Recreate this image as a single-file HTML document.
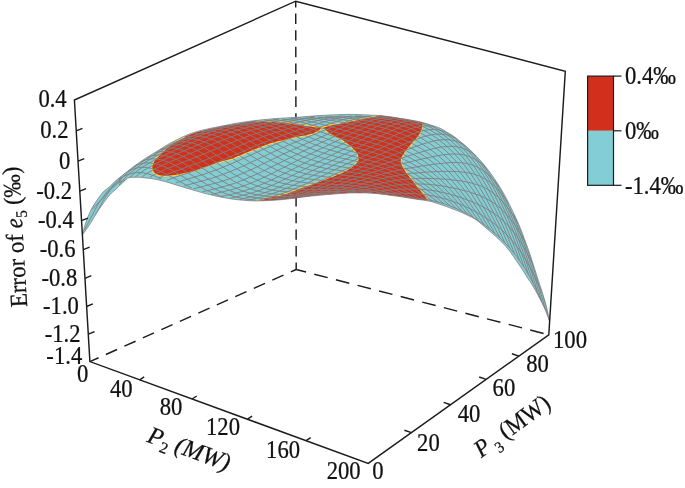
<!DOCTYPE html>
<html><head><meta charset="utf-8"><title>Error of e5</title>
<style>html,body{margin:0;padding:0;background:#fff}svg{display:block}</style></head>
<body>
<svg width="685" height="488" viewBox="0 0 685 488">
<rect width="685" height="488" fill="#fff"/>
<line x1="295.7" y1="1.2" x2="296.2" y2="269.5" stroke="#1c1c1c" stroke-width="1.45" stroke-dasharray="10.4 6.2" stroke-dashoffset="4.2"/>
<line x1="89.9" y1="361.6" x2="296.2" y2="269.5" stroke="#1c1c1c" stroke-width="1.45" stroke-dasharray="12.25 8" stroke-dashoffset="2.75"/>
<line x1="296.2" y1="269.5" x2="548.8" y2="334.8" stroke="#1c1c1c" stroke-width="1.45" stroke-dasharray="13.8 8.5" stroke-dashoffset="3.6"/>
<g id="surf">
<path d="M82.4 235 C83 232.8 84.4 226.5 86 222 C87.6 217.5 89.7 212.3 92 208 C94.3 203.7 98 198.8 100 196 C102 193.2 102.3 192.8 104 191.2 C105.7 189.6 108.2 188.2 110 186.5 C111.8 184.8 113.2 183 115 181.3 C116.8 179.6 119 178 121.1 176.4 C123.1 174.8 125.2 173.1 127.3 171.5 C129.3 169.9 131.3 168.2 133.4 166.7 C135.5 165.2 137.6 163.8 139.6 162.4 C141.6 161 143.6 159.5 145.7 158.2 C147.8 156.9 149.8 155.7 151.9 154.4 C154 153.2 155.9 152 158 150.7 C160.1 149.4 162.6 147.7 164.6 146.5 C166.6 145.3 167.9 144.5 170 143.4 C172.1 142.3 174.7 140.8 176.9 139.7 C179.1 138.6 181 137.7 183 136.8 C185 135.9 187.1 135 189.1 134.2 C191.1 133.4 192.9 132.8 195 132.2 C197.1 131.6 198.9 131 201.4 130.4 C203.9 129.8 206.9 129.1 210 128.4 C213.1 127.7 216.7 127.1 220 126.4 C223.3 125.7 226.7 125 230 124.4 C233.3 123.8 236.7 123.2 240 122.7 C243.3 122.2 246.7 121.7 250 121.2 C253.3 120.8 256.7 120.4 260 120 C263.3 119.6 266.7 119.3 270 119 C273.3 118.7 276.7 118.5 280 118.3 C283.3 118.1 286.7 117.9 290 117.7 C293.3 117.5 296.3 117.4 300 117.1 C303.7 116.8 308.2 116.4 312.3 116.1 C316.4 115.8 320.5 115.5 324.6 115.3 C328.7 115.1 332.8 114.8 336.9 114.7 C341 114.6 345 114.4 349.1 114.4 C353.2 114.4 357.3 114.6 361.4 114.7 C365.5 114.8 370.6 115.2 373.7 115.3 C376.8 115.4 376.9 115.3 380 115.6 C383.1 115.9 388.2 116.5 392.3 117.1 C396.4 117.7 400.5 118.3 404.6 119 C408.7 119.7 413.9 120.6 416.9 121.2 C419.9 121.8 420.8 122 422.8 122.6 C424.8 123.1 427.1 123.9 429.1 124.5 C431.1 125.1 432.9 125.7 435 126.4 C437.1 127.1 439.5 127.9 441.4 128.8 C443.2 129.7 444.3 130.7 446.1 131.8 C447.9 132.9 450.2 134 452.3 135.3 C454.4 136.7 456.3 138.3 458.4 139.9 C460.4 141.5 462.6 143.2 464.6 145 C466.7 146.8 468.6 148.6 470.7 150.5 C472.8 152.4 474.8 154.5 476.9 156.7 C478.9 158.9 481.1 161.3 483 163.6 C484.9 165.9 486.7 168.1 488.6 170.6 C490.5 173.1 492.4 175.8 494.4 178.8 C496.4 181.8 498.6 185 500.7 188.4 C502.8 191.8 504.8 195.6 506.9 199.5 C508.9 203.4 511.3 208.3 513 211.8 C514.7 215.3 515.8 217.5 517 220.3 C518.2 223.1 519.3 225.6 520.5 228.6 C521.7 231.6 523 235.1 524.2 238.4 C525.4 241.7 526.7 244.8 527.9 248.3 C529.1 251.8 530.4 255.7 531.6 259.3 C532.8 262.9 533.9 266.6 535 270 C536.1 273.4 537 276.3 538.1 279.8 C539.2 283.3 540.6 287 541.8 290.9 C543 294.8 544.5 299.5 545.5 303.2 C546.5 306.9 547.3 310.1 547.9 313 C548.5 315.9 549 319.2 549.2 320.5 L549.2 320.5 C548.8 319.4 547.7 316.2 546.7 313.6 C545.7 311 544.6 308.4 543 305 C541.4 301.6 538.9 296.8 536.9 293 C534.9 289.2 532.1 284.8 530.7 282.5 C529.3 280.2 529.8 281.5 528.5 279.5 C527.2 277.5 524.9 273.5 523 270.5 C521.1 267.5 518.9 264.5 516.9 261.5 C514.9 258.5 512.7 255.2 510.7 252.5 C508.7 249.8 507 247.8 505 245.5 C503 243.2 500.7 241 498.5 238.9 C496.3 236.8 494.1 234.8 492 233 C489.9 231.2 488 229.7 486 228 C484 226.3 482 224.4 480 222.8 C478 221.2 477.1 220.3 474.1 218.6 C471.1 216.9 466 214.4 461.9 212.6 C457.8 210.8 453.7 209.2 449.6 207.7 C445.5 206.2 440.8 204.5 437.3 203.4 C433.8 202.3 432.2 201.7 428.7 201 C425.2 200.3 420.5 199.8 416.4 199.2 C412.3 198.6 408.2 197.8 404.1 197.2 C400 196.6 396 196.1 391.9 195.5 C387.8 194.9 383.7 194.3 379.6 193.9 C375.5 193.5 370.6 193.2 367.3 193 C364 192.8 363.1 192.9 360 192.9 C356.9 192.9 352.6 192.8 348.7 193 C344.8 193.2 340.5 193.5 336.4 193.8 C332.3 194.1 328.2 194.4 324.1 194.8 C320 195.2 315.9 195.6 311.9 196 C307.9 196.4 303.6 197 300 197.4 C296.4 197.8 293.3 198.3 290 198.7 C286.7 199.1 283.6 199.5 280 199.8 C276.4 200.1 272.6 200.3 268.7 200.5 C264.8 200.7 260.5 200.9 256.4 200.9 C252.3 200.9 248.2 200.6 244.1 200.3 C240 200 236 199.6 231.9 199 C227.8 198.4 223.7 197.6 219.6 196.8 C215.5 196 211.4 195 207.3 194 C203.2 193 198.1 191.5 195 190.6 C191.9 189.7 190.8 189.3 188.7 188.7 C186.6 188.1 184.6 187.5 182.5 186.9 C180.4 186.3 178.5 185.7 176.4 185 C174.3 184.3 172.1 183.6 170 183 C167.9 182.4 166.1 181.8 164.1 181.3 C162.1 180.8 160 180.2 158 179.8 C156 179.4 153.9 178.9 151.9 178.6 C149.9 178.3 148.1 178.2 146 178 C143.9 177.8 141.8 177.4 139.6 177.3 C137.4 177.2 134.9 177.2 133 177.3 C131.1 177.4 129.2 177.5 127.9 178 C126.6 178.5 126.1 179.5 125 180.5 C123.9 181.5 122.8 182.6 121.1 184.2 C119.4 185.8 116.8 188.3 115 190 C113.2 191.7 112.2 192.1 110 194.6 C107.8 197.1 104.3 201.8 102 205 C99.7 208.2 98 210.8 96 214 C94 217.2 92.3 220.5 90 224 C87.7 227.5 83.7 233.2 82.4 235Z" fill="#83cdd4"/>
<path d="M322.5 127.4 C321.8 127.3 319.3 127 318 126.9 C316.7 126.8 316.5 126.8 314.7 126.6 C312.9 126.4 309.8 126 307.4 125.6 C304.9 125.2 302.3 124.7 300 124.4 C297.7 124.1 295.9 123.9 293.7 123.6 C291.5 123.3 289.1 123 287 122.7 C284.9 122.5 283.4 122.3 281.4 122.1 C279.4 121.9 277.1 121.8 275 121.6 C272.9 121.4 271.1 121.2 269.1 121.2 C267.1 121.2 265 121.2 263 121.3 C261 121.4 259.1 121.5 256.9 121.6 C254.7 121.7 252.8 121.6 250 121.9 C247.2 122.2 243.3 122.9 240 123.4 C236.7 123.9 233.3 124.5 230 125.1 C226.7 125.7 223.3 126.4 220 127.1 C216.7 127.8 213.1 128.4 210 129.1 C206.9 129.8 203.9 130.5 201.4 131.1 C198.9 131.7 197.1 132.3 195 132.9 C192.9 133.5 190.8 134.3 189.1 134.9 C187.4 135.5 186.4 135.9 185 136.6 C183.6 137.4 182 138.5 180.5 139.3 C179 140.1 177.4 140.7 176 141.4 C174.6 142.2 173.3 143 172 143.8 C170.7 144.6 169.6 145.3 168.3 146.4 C167 147.5 165.3 149.2 164.1 150.3 C162.9 151.4 162.2 152 161.1 153.1 C160 154.2 158.5 155.6 157.4 156.8 C156.3 158 155.1 159.2 154.3 160.4 C153.5 161.6 152.9 162.9 152.5 164.1 C152.1 165.3 151.8 166.4 151.8 167.5 C151.8 168.6 152.1 169.6 152.4 170.5 C152.7 171.4 153.2 172.1 153.7 172.7 C154.2 173.3 154.8 173.8 155.5 174.2 C156.2 174.6 157.1 174.9 158 175.2 C158.9 175.5 160 175.8 161 176 C162 176.2 162.5 176.4 164.1 176.4 C165.7 176.4 168.2 176.2 170.3 176 C172.4 175.8 174.4 175.5 176.4 175.2 C178.4 174.9 180.6 174.4 182.6 174 C184.6 173.6 186.6 173.2 188.7 172.7 C190.8 172.2 193.1 171.5 195 170.9 C196.9 170.3 197.5 170 200 169.2 C202.5 168.3 206.7 166.9 210 165.8 C213.3 164.7 216.5 163.4 220 162.4 C223.5 161.4 228.1 160.5 231 159.6 C233.9 158.7 235.2 157.7 237.5 156.8 C239.8 155.9 242.4 154.9 244.6 154 C246.8 153.1 248.6 152.4 250.7 151.6 C252.8 150.8 254.8 149.9 256.9 149.1 C258.9 148.3 261 147.4 263 146.6 C265 145.8 267.1 144.9 269.1 144.2 C271.1 143.5 272.9 143.1 275 142.6 C277.1 142.1 279.3 141.6 281.4 141.1 C283.5 140.6 285.4 140.1 287.5 139.6 C289.6 139.1 291.6 138.6 293.7 138.1 C295.8 137.6 297.7 137.1 300 136.7 C302.3 136.2 305.4 135.8 307.4 135.4 C309.4 135 310.6 134.7 312 134.2 C313.4 133.7 314.8 133.2 316 132.6 C317.2 132 318.4 131.5 319.5 130.6 C320.6 129.7 322 127.9 322.5 127.4Z" fill="#d2301c"/>
<path d="M322.5 127.4 C323.2 127.2 325.1 126.5 326.5 126.1 C327.9 125.7 329.2 125.2 330.7 124.9 C332.2 124.6 334 124.4 335.6 124.1 C337.2 123.8 339 123.6 340.5 123.3 C342 123 343.4 122.7 344.8 122.4 C346.2 122.1 347.7 121.7 349.1 121.4 C350.5 121.1 352 120.8 353.4 120.5 C354.8 120.2 355.8 120 357.7 119.6 C359.6 119.2 362.6 118.7 365 118.2 C367.4 117.7 369.7 117.2 372 116.8 C374.3 116.4 377.8 115.8 379 115.6 L380 115.6 C382.1 115.8 388.2 116.5 392.3 117.1 C396.4 117.7 400.5 118.3 404.6 119 C408.7 119.7 414.8 120.8 416.9 121.2 L422.8 122.6 C422.8 123.1 423.1 124.6 423 125.5 C422.9 126.4 422.7 127.2 422.4 128.2 C422.1 129.1 421.7 130.2 421.3 131.2 C420.9 132.2 420.5 133.3 419.9 134.3 C419.3 135.3 418.6 136.5 417.8 137.4 C417 138.3 416.4 138.8 415.3 140 C414.2 141.2 412.3 143.6 411.2 144.9 C410.1 146.2 409.4 147 408.6 148 C407.8 149 407 149.9 406.3 150.9 C405.6 151.9 404.9 152.9 404.3 153.8 C403.7 154.8 403.1 155.7 402.6 156.6 C402.1 157.5 401.7 158.3 401.5 159 C401.3 159.7 401.3 160.3 401.3 161 C401.3 161.7 401.4 162.6 401.6 163.4 C401.8 164.2 402.2 164.9 402.7 165.8 C403.2 166.7 403.9 167.9 404.5 168.9 C405.1 169.9 405.7 170.9 406.4 171.9 C407.1 172.9 408 174.1 408.8 175.2 C409.6 176.3 410.3 177.4 411.2 178.5 C412.1 179.6 412.9 180.7 414 182 C415.1 183.3 416.4 184.9 417.6 186.4 C418.8 187.9 420.1 189.3 421.3 190.8 C422.5 192.3 423.8 194 425 195.6 C426.2 197.2 428.1 199.8 428.7 200.6 L416.4 199.2 C414.3 198.9 408.2 197.8 404.1 197.2 C400 196.6 396 196.1 391.9 195.5 C387.8 194.9 383.7 194.3 379.6 193.9 C375.5 193.5 370.6 193.2 367.3 193 C364 192.8 363.1 192.9 360 192.9 C356.9 192.9 352.6 192.8 348.7 193 C344.8 193.2 340.5 193.5 336.4 193.8 C332.3 194.1 328.2 194.4 324.1 194.8 C320 195.2 315.9 195.6 311.9 196 C307.9 196.4 303.6 197 300 197.4 C296.4 197.8 293.3 198.3 290 198.7 C286.7 199.1 283.6 199.5 280 199.8 C276.4 200.1 270.6 200.4 268.7 200.5 L256.6 200.8 C257.5 200.6 260 200.1 262 199.5 C264 198.9 266.5 198.1 268.7 197.5 C270.9 196.9 273.1 196.5 275 196.1 C276.9 195.7 277.9 195.6 280 195.1 C282.1 194.6 285.1 193.6 287.3 192.9 C289.6 192.2 291.4 191.5 293.5 190.7 C295.6 189.9 297.6 189.1 299.6 188.3 C301.6 187.6 303.6 186.9 305.7 186.2 C307.8 185.5 309.8 184.7 311.9 184 C313.9 183.3 316 182.6 318 181.9 C320 181.2 322.1 180.5 324.1 179.7 C326.1 178.9 328.1 178.1 330.2 177.3 C332.2 176.5 334.4 175.5 336.4 174.7 C338.4 173.8 340.8 172.9 342.4 172.2 C344 171.5 345 171 346.2 170.3 C347.4 169.6 348.5 168.9 349.7 168.1 C350.9 167.3 352.2 166.5 353.2 165.7 C354.2 164.9 355.2 164 355.9 163.2 C356.6 162.4 357.1 161.7 357.5 161 C357.9 160.3 358 159.6 358.1 158.9 C358.2 158.2 358.1 157.3 357.9 156.6 C357.7 155.9 357.5 155.4 357.1 154.6 C356.7 153.8 356.1 152.8 355.5 152 C354.9 151.2 354.2 150.6 353.4 149.7 C352.6 148.8 351.5 147.7 350.5 146.8 C349.5 145.9 348.4 144.9 347.3 144.1 C346.2 143.3 345.2 142.6 344.2 141.9 C343.2 141.2 342.1 140.4 341.1 139.8 C340.1 139.2 339 138.7 338 138.2 C337 137.7 336.1 137.3 335 136.8 C333.9 136.3 332.6 135.7 331.5 135 C330.4 134.3 329.4 133.7 328.3 132.9 C327.2 132.1 326.2 131.2 325.2 130.3 C324.2 129.4 322.9 127.9 322.5 127.4Z" fill="#d2301c"/>
<path d="M322.5 127.4 C321.8 127.3 319.3 127 318 126.9 C316.7 126.8 316.5 126.8 314.7 126.6 C312.9 126.4 309.8 126 307.4 125.6 C304.9 125.2 302.3 124.7 300 124.4 C297.7 124.1 295.9 123.9 293.7 123.6 C291.5 123.3 289.1 123 287 122.7 C284.9 122.5 283.4 122.3 281.4 122.1 C279.4 121.9 277.1 121.8 275 121.6 C272.9 121.4 271.1 121.2 269.1 121.2 C267.1 121.2 265 121.2 263 121.3 C261 121.4 257.9 121.5 256.9 121.6" fill="none" stroke="#f0dc46" stroke-width="1.1"/>
<path d="M185 136.6 C184.2 137.1 182 138.5 180.5 139.3 C179 140.1 177.4 140.7 176 141.4 C174.6 142.2 173.3 143 172 143.8 C170.7 144.6 169.6 145.3 168.3 146.4 C167 147.5 165.3 149.2 164.1 150.3 C162.9 151.4 162.2 152 161.1 153.1 C160 154.2 158.5 155.6 157.4 156.8 C156.3 158 155.1 159.2 154.3 160.4 C153.5 161.6 152.9 162.9 152.5 164.1 C152.1 165.3 151.8 166.4 151.8 167.5 C151.8 168.6 152.1 169.6 152.4 170.5 C152.7 171.4 153.2 172.1 153.7 172.7 C154.2 173.3 154.8 173.8 155.5 174.2 C156.2 174.6 157.1 174.9 158 175.2 C158.9 175.5 160 175.8 161 176 C162 176.2 162.5 176.4 164.1 176.4 C165.7 176.4 168.2 176.2 170.3 176 C172.4 175.8 174.4 175.5 176.4 175.2 C178.4 174.9 180.6 174.4 182.6 174 C184.6 173.6 186.6 173.2 188.7 172.7 C190.8 172.2 193.1 171.5 195 170.9 C196.9 170.3 197.5 170 200 169.2 C202.5 168.3 206.7 166.9 210 165.8 C213.3 164.7 216.5 163.4 220 162.4 C223.5 161.4 228.1 160.5 231 159.6 C233.9 158.7 235.2 157.7 237.5 156.8 C239.8 155.9 242.4 154.9 244.6 154 C246.8 153.1 248.6 152.4 250.7 151.6 C252.8 150.8 254.8 149.9 256.9 149.1 C258.9 148.3 261 147.4 263 146.6 C265 145.8 267.1 144.9 269.1 144.2 C271.1 143.5 272.9 143.1 275 142.6 C277.1 142.1 279.3 141.6 281.4 141.1 C283.5 140.6 285.4 140.1 287.5 139.6 C289.6 139.1 291.6 138.6 293.7 138.1 C295.8 137.6 297.7 137.1 300 136.7 C302.3 136.2 305.4 135.8 307.4 135.4 C309.4 135 310.6 134.7 312 134.2 C313.4 133.7 314.8 133.2 316 132.6 C317.2 132 318.4 131.5 319.5 130.6 C320.6 129.7 322 127.9 322.5 127.4" fill="none" stroke="#f0dc46" stroke-width="1.1"/>
<path d="M322.5 127.4 C323.2 127.2 325.1 126.5 326.5 126.1 C327.9 125.7 329.2 125.2 330.7 124.9 C332.2 124.6 334 124.4 335.6 124.1 C337.2 123.8 339 123.6 340.5 123.3 C342 123 343.4 122.7 344.8 122.4 C346.2 122.1 347.7 121.7 349.1 121.4 C350.5 121.1 352 120.8 353.4 120.5 C354.8 120.2 355.8 120 357.7 119.6 C359.6 119.2 362.6 118.7 365 118.2 C367.4 117.7 369.7 117.2 372 116.8 C374.3 116.4 377.8 115.8 379 115.6" fill="none" stroke="#f0dc46" stroke-width="1.1"/>
<path d="M422.8 122.6 C422.8 123.1 423.1 124.6 423 125.5 C422.9 126.4 422.7 127.2 422.4 128.2 C422.1 129.1 421.7 130.2 421.3 131.2 C420.9 132.2 420.5 133.3 419.9 134.3 C419.3 135.3 418.6 136.5 417.8 137.4 C417 138.3 416.4 138.8 415.3 140 C414.2 141.2 412.3 143.6 411.2 144.9 C410.1 146.2 409.4 147 408.6 148 C407.8 149 407 149.9 406.3 150.9 C405.6 151.9 404.9 152.9 404.3 153.8 C403.7 154.8 403.1 155.7 402.6 156.6 C402.1 157.5 401.7 158.3 401.5 159 C401.3 159.7 401.3 160.3 401.3 161 C401.3 161.7 401.4 162.6 401.6 163.4 C401.8 164.2 402.2 164.9 402.7 165.8 C403.2 166.7 403.9 167.9 404.5 168.9 C405.1 169.9 405.7 170.9 406.4 171.9 C407.1 172.9 408 174.1 408.8 175.2 C409.6 176.3 410.3 177.4 411.2 178.5 C412.1 179.6 412.9 180.7 414 182 C415.1 183.3 416.4 184.9 417.6 186.4 C418.8 187.9 420.1 189.3 421.3 190.8 C422.5 192.3 423.8 194 425 195.6 C426.2 197.2 428.1 199.8 428.7 200.6" fill="none" stroke="#f0dc46" stroke-width="1.1"/>
<path d="M256.6 200.8 C257.5 200.6 260 200.1 262 199.5 C264 198.9 266.5 198.1 268.7 197.5 C270.9 196.9 273.1 196.5 275 196.1 C276.9 195.7 277.9 195.6 280 195.1 C282.1 194.6 285.1 193.6 287.3 192.9 C289.6 192.2 291.4 191.5 293.5 190.7 C295.6 189.9 297.6 189.1 299.6 188.3 C301.6 187.6 303.6 186.9 305.7 186.2 C307.8 185.5 309.8 184.7 311.9 184 C313.9 183.3 316 182.6 318 181.9 C320 181.2 322.1 180.5 324.1 179.7 C326.1 178.9 328.1 178.1 330.2 177.3 C332.2 176.5 334.4 175.5 336.4 174.7 C338.4 173.8 340.8 172.9 342.4 172.2 C344 171.5 345 171 346.2 170.3 C347.4 169.6 348.5 168.9 349.7 168.1 C350.9 167.3 352.2 166.5 353.2 165.7 C354.2 164.9 355.2 164 355.9 163.2 C356.6 162.4 357.1 161.7 357.5 161 C357.9 160.3 358 159.6 358.1 158.9 C358.2 158.2 358.1 157.3 357.9 156.6 C357.7 155.9 357.5 155.4 357.1 154.6 C356.7 153.8 356.1 152.8 355.5 152 C354.9 151.2 354.2 150.6 353.4 149.7 C352.6 148.8 351.5 147.7 350.5 146.8 C349.5 145.9 348.4 144.9 347.3 144.1 C346.2 143.3 345.2 142.6 344.2 141.9 C343.2 141.2 342.1 140.4 341.1 139.8 C340.1 139.2 339 138.7 338 138.2 C337 137.7 336.1 137.3 335 136.8 C333.9 136.3 332.6 135.7 331.5 135 C330.4 134.3 329.4 133.7 328.3 132.9 C327.2 132.1 326.2 131.2 325.2 130.3 C324.2 129.4 322.9 127.9 322.5 127.4" fill="none" stroke="#f0dc46" stroke-width="1.1"/>
<clipPath id="oc"><path d="M82.4 235 C83 232.8 84.4 226.5 86 222 C87.6 217.5 89.7 212.3 92 208 C94.3 203.7 98 198.8 100 196 C102 193.2 102.3 192.8 104 191.2 C105.7 189.6 108.2 188.2 110 186.5 C111.8 184.8 113.2 183 115 181.3 C116.8 179.6 119 178 121.1 176.4 C123.1 174.8 125.2 173.1 127.3 171.5 C129.3 169.9 131.3 168.2 133.4 166.7 C135.5 165.2 137.6 163.8 139.6 162.4 C141.6 161 143.6 159.5 145.7 158.2 C147.8 156.9 149.8 155.7 151.9 154.4 C154 153.2 155.9 152 158 150.7 C160.1 149.4 162.6 147.7 164.6 146.5 C166.6 145.3 167.9 144.5 170 143.4 C172.1 142.3 174.7 140.8 176.9 139.7 C179.1 138.6 181 137.7 183 136.8 C185 135.9 187.1 135 189.1 134.2 C191.1 133.4 192.9 132.8 195 132.2 C197.1 131.6 198.9 131 201.4 130.4 C203.9 129.8 206.9 129.1 210 128.4 C213.1 127.7 216.7 127.1 220 126.4 C223.3 125.7 226.7 125 230 124.4 C233.3 123.8 236.7 123.2 240 122.7 C243.3 122.2 246.7 121.7 250 121.2 C253.3 120.8 256.7 120.4 260 120 C263.3 119.6 266.7 119.3 270 119 C273.3 118.7 276.7 118.5 280 118.3 C283.3 118.1 286.7 117.9 290 117.7 C293.3 117.5 296.3 117.4 300 117.1 C303.7 116.8 308.2 116.4 312.3 116.1 C316.4 115.8 320.5 115.5 324.6 115.3 C328.7 115.1 332.8 114.8 336.9 114.7 C341 114.6 345 114.4 349.1 114.4 C353.2 114.4 357.3 114.6 361.4 114.7 C365.5 114.8 370.6 115.2 373.7 115.3 C376.8 115.4 376.9 115.3 380 115.6 C383.1 115.9 388.2 116.5 392.3 117.1 C396.4 117.7 400.5 118.3 404.6 119 C408.7 119.7 413.9 120.6 416.9 121.2 C419.9 121.8 420.8 122 422.8 122.6 C424.8 123.1 427.1 123.9 429.1 124.5 C431.1 125.1 432.9 125.7 435 126.4 C437.1 127.1 439.5 127.9 441.4 128.8 C443.2 129.7 444.3 130.7 446.1 131.8 C447.9 132.9 450.2 134 452.3 135.3 C454.4 136.7 456.3 138.3 458.4 139.9 C460.4 141.5 462.6 143.2 464.6 145 C466.7 146.8 468.6 148.6 470.7 150.5 C472.8 152.4 474.8 154.5 476.9 156.7 C478.9 158.9 481.1 161.3 483 163.6 C484.9 165.9 486.7 168.1 488.6 170.6 C490.5 173.1 492.4 175.8 494.4 178.8 C496.4 181.8 498.6 185 500.7 188.4 C502.8 191.8 504.8 195.6 506.9 199.5 C508.9 203.4 511.3 208.3 513 211.8 C514.7 215.3 515.8 217.5 517 220.3 C518.2 223.1 519.3 225.6 520.5 228.6 C521.7 231.6 523 235.1 524.2 238.4 C525.4 241.7 526.7 244.8 527.9 248.3 C529.1 251.8 530.4 255.7 531.6 259.3 C532.8 262.9 533.9 266.6 535 270 C536.1 273.4 537 276.3 538.1 279.8 C539.2 283.3 540.6 287 541.8 290.9 C543 294.8 544.5 299.5 545.5 303.2 C546.5 306.9 547.3 310.1 547.9 313 C548.5 315.9 549 319.2 549.2 320.5 L549.2 320.5 C548.8 319.4 547.7 316.2 546.7 313.6 C545.7 311 544.6 308.4 543 305 C541.4 301.6 538.9 296.8 536.9 293 C534.9 289.2 532.1 284.8 530.7 282.5 C529.3 280.2 529.8 281.5 528.5 279.5 C527.2 277.5 524.9 273.5 523 270.5 C521.1 267.5 518.9 264.5 516.9 261.5 C514.9 258.5 512.7 255.2 510.7 252.5 C508.7 249.8 507 247.8 505 245.5 C503 243.2 500.7 241 498.5 238.9 C496.3 236.8 494.1 234.8 492 233 C489.9 231.2 488 229.7 486 228 C484 226.3 482 224.4 480 222.8 C478 221.2 477.1 220.3 474.1 218.6 C471.1 216.9 466 214.4 461.9 212.6 C457.8 210.8 453.7 209.2 449.6 207.7 C445.5 206.2 440.8 204.5 437.3 203.4 C433.8 202.3 432.2 201.7 428.7 201 C425.2 200.3 420.5 199.8 416.4 199.2 C412.3 198.6 408.2 197.8 404.1 197.2 C400 196.6 396 196.1 391.9 195.5 C387.8 194.9 383.7 194.3 379.6 193.9 C375.5 193.5 370.6 193.2 367.3 193 C364 192.8 363.1 192.9 360 192.9 C356.9 192.9 352.6 192.8 348.7 193 C344.8 193.2 340.5 193.5 336.4 193.8 C332.3 194.1 328.2 194.4 324.1 194.8 C320 195.2 315.9 195.6 311.9 196 C307.9 196.4 303.6 197 300 197.4 C296.4 197.8 293.3 198.3 290 198.7 C286.7 199.1 283.6 199.5 280 199.8 C276.4 200.1 272.6 200.3 268.7 200.5 C264.8 200.7 260.5 200.9 256.4 200.9 C252.3 200.9 248.2 200.6 244.1 200.3 C240 200 236 199.6 231.9 199 C227.8 198.4 223.7 197.6 219.6 196.8 C215.5 196 211.4 195 207.3 194 C203.2 193 198.1 191.5 195 190.6 C191.9 189.7 190.8 189.3 188.7 188.7 C186.6 188.1 184.6 187.5 182.5 186.9 C180.4 186.3 178.5 185.7 176.4 185 C174.3 184.3 172.1 183.6 170 183 C167.9 182.4 166.1 181.8 164.1 181.3 C162.1 180.8 160 180.2 158 179.8 C156 179.4 153.9 178.9 151.9 178.6 C149.9 178.3 148.1 178.2 146 178 C143.9 177.8 141.8 177.4 139.6 177.3 C137.4 177.2 134.9 177.2 133 177.3 C131.1 177.4 129.2 177.5 127.9 178 C126.6 178.5 126.1 179.5 125 180.5 C123.9 181.5 122.8 182.6 121.1 184.2 C119.4 185.8 116.8 188.3 115 190 C113.2 191.7 112.2 192.1 110 194.6 C107.8 197.1 104.3 201.8 102 205 C99.7 208.2 98 210.8 96 214 C94 217.2 92.3 220.5 90 224 C87.7 227.5 83.7 233.2 82.4 235Z"/></clipPath>
<clipPath id="rc"><rect x="119" y="100" width="440" height="230"/></clipPath>
<g clip-path="url(#oc)"><path clip-path="url(#rc)" d="M96 210.9 L101.9 199.8 L104.9 195 L108.7 189.7 M297.7 118.1 L299.5 117.6 M103.2 201 L107.6 193.5 L112.9 186.1 L119 179.1 L125.1 173.2 M156 152.1 L173.5 143 L190 135.7 M305.2 117.4 L307 117 M110.5 192.7 L114.3 187.2 L118.1 182.4 L122.7 177.3 L127.3 173 L132.7 168.5 L138 164.5 L144.1 160.5 L151.7 156 L161.4 150.7 L171.8 145.5 L182.7 140.4 L192.8 136.1 L202 132.6 L211 129.5 L220 126.9 L229.5 124.7 M314 116.4 L314.6 116.3 M118 186.2 L122.6 180.6 L127.3 175.8 L132.7 171 L138.9 166.3 L145.8 161.8 L154.2 157 L164.1 151.9 L175.2 146.4 L186.2 141.4 L197.1 136.8 L207 133 L216.8 129.7 L226.5 126.9 L236 124.6 L246.1 122.7 L256.6 121 M125.8 181.5 L131.2 176 L136.7 171.3 L142.9 166.9 L149.9 162.7 L159.2 157.7 L171.3 151.9 L187.7 144.5 L201.5 138.6 L211.5 134.7 L220.6 131.5 L229.6 128.7 L238.5 126.3 L248 124.2 L257.3 122.4 L267.7 120.7 L278.6 119.3 M133.7 178.5 L138.4 174.4 L143.9 170.4 L150.2 166.6 L158 162.5 L170.3 156.7 L193.6 146.6 L208.2 140.4 L220.3 135.7 L237.7 129.9 L255.4 125.3 L275.7 121.3 L297.9 118.2 M141.8 177.1 L146.6 173.7 L151.3 170.8 L156.9 167.9 L163.9 164.5 L215.7 142.8 L236.2 135 L253.4 129.6 L272.1 124.8 L294.7 120.3 L314.5 117.2 M150.1 177.1 L157.3 173 L166.8 168.7 L196.8 156.9 L233.3 141.8 L252.1 134.8 L270.4 129.2 L291.3 123.7 L312.2 119.2 L328.6 116.5 M158.6 178.3 L163.4 175.9 L169 173.5 L201.5 161.7 L245.9 143.1 L257 138.8 L268 134.9 L288.6 128.4 L311.7 122 L327.7 118.2 L341 116.1 M167.1 180.3 L176 176.9 L197.9 169.7 L210.8 165 L223.5 159.8 L260 144 L273 138.9 L286.4 134 L309.2 126.4 L327.4 120.9 L340.2 117.8 L351.5 115.9 M175.8 182.9 L183.1 180.5 L205 173.9 L218.7 169 L232.1 163.5 L261.5 150.2 L276.8 143.7 L295.6 136.2 L318.9 127.5 L333.3 122.5 L343.7 119.4 L353.3 117.1 L361.6 115.9 M184.6 185.8 L211.5 178.3 L219.9 175.5 L228.2 172.4 L242.3 166.4 L273 152.1 L289.4 144.7 L316.5 133.4 L339.3 124.3 L348.5 121.1 L356.4 118.7 L363.5 117.1 L370.6 116.1 M193.5 188.8 L217.3 182.7 L225.7 180.1 L234.1 177 L251.1 169.7 L283.1 154.2 L299.5 146.6 L345.4 126.3 L355.8 122.2 L364.9 119.2 L372.6 117.4 L379.6 116.5 M202.5 191.7 L216.9 188.4 L225.5 186.1 L233.9 183.5 L243 180.1 L258.5 173.3 L304.9 150.4 L342.8 132.4 L356.5 126.2 L366.3 122.2 L374.1 119.6 L381.2 117.9 L388.2 117.1 M211.6 194.4 L225.1 191.3 L233.7 189.1 L242.9 186.1 L252 182.7 L260.2 179.1 L268.9 175 L313 152.6 L354.7 132.1 L367.1 126.3 L376.2 122.5 L384 120 L391 118.5 L397.4 117.9 M220.8 196.6 L233.5 193.8 L242.1 191.5 L251.3 188.5 L260.3 185 L268.5 181.4 L278 176.8 L320 155.2 L364.2 132.9 L376.5 126.9 L385.6 123.2 L393.3 120.8 L400.3 119.4 L406.7 119.1 M230.1 198.3 L243.5 195.2 L253.6 192.4 L263.5 188.9 L274 184.5 L289.3 177 L321.6 160.3 L373.7 133.7 L389 126.5 L396.8 123.6 L403.9 121.7 L410.3 120.8 L416 120.9 M239.4 199.5 L252.1 196.5 L261.4 193.8 L271.3 190.4 L281.8 186 L296.4 178.9 L328.7 162.3 L381.5 135.6 L390.1 131.4 L397.4 128.2 L405.8 125.2 L412.8 123.6 L419.2 123 L425.4 123.4 M248.9 200.1 L260.7 197.2 L270 194.5 L279.9 191 L289.7 187 L302.9 180.7 L337.3 163.3 L388.2 138.4 L398 133.8 L405.3 130.7 L414.2 127.6 L421.8 126.1 L425.3 125.9 L428.7 125.9 L432.1 126.3 L435.4 127 M258.5 200.2 L269.5 197.4 L278.8 194.7 L287.9 191.5 L296.9 187.8 L309.4 182.1 L338.5 167.9 L354.8 160.1 L399.2 139.5 L413.2 133.7 L422.7 130.8 L426.8 130 L430.9 129.5 L434.9 129.5 L438.3 129.8 L442.2 130.7 L445.5 131.8 M268.2 199.9 L278.4 197.2 L286.9 194.7 L294.6 192.1 L302.8 188.9 L315.4 183.5 L344.6 169.8 L360.9 162.5 L406.1 143.2 L420.7 137.6 L426 136 L431.3 134.8 L436 134.2 L440 134 L444 134.3 L447.9 135 L451.7 136.3 L455.6 138 M278 199.2 L294.4 194.7 L308.1 190 L320 185.2 L350.7 171.6 L368.5 164.3 L411.8 147.9 L421 144.6 L428.2 142.4 L434.1 140.9 L439.4 140 L444.6 139.6 L449.1 139.8 L453.6 140.5 L457.5 141.7 L461.9 143.7 L465.6 145.9 M288 198.2 L303.6 193.9 L317.2 189.4 L329.1 184.9 L359.8 172.4 L380.3 165 L417.6 153 L427.4 150.2 L435.2 148.2 L442.3 146.9 L448.1 146.3 L453.3 146.3 L458.3 147 L463.3 148.4 L467.7 150.3 L472 152.9 L476.2 156.2 M298.1 197.2 L312.9 193.2 L324.3 189.7 L335.4 185.8 L364.9 174.9 L384 168.7 L398.6 164.7 L417.2 160.1 L432 156.8 L442.3 154.9 L449.9 154.1 L456.3 154 L461.9 154.5 L467.5 155.9 L473 158.1 L477.8 161 L482.5 164.8 L487.2 169.4 M308.3 196 L330.7 190.2 L370.7 177.3 L381.1 174.3 L390.6 171.9 L404.6 168.9 L420.6 166.2 L438 163.7 L450 162.6 L458.2 162.5 L465 163.2 L471.2 164.5 L477.3 166.9 L482.6 170 L487.9 174.1 L493 179.2 L498.5 185.9 M318.7 195 L341.7 189.6 L379.5 179.2 L388.5 177.1 L397.3 175.4 L411.3 173.4 L426.1 172.1 L443.4 171.3 L456.6 171.5 L465.3 172.3 L472.7 173.7 L479.4 176 L485.9 179.4 L491.7 183.6 L497.4 189 L502.9 195.6 L508.8 204 M333.1 193.4 L350.7 190 L384.9 182.4 L395.3 180.5 L405.5 179.3 L418.7 178.4 L432.8 178.5 L448.3 179.4 L462.1 181.1 L471.9 183.1 L479.8 185.6 L487 188.9 L493.4 193.1 L499.7 198.5 L505.3 204.6 L511.2 212.6 L517.4 222.5 M347.6 192.5 L393.2 185.4 L404.3 184.3 L414.4 183.9 L426.9 184.2 L440.4 185.6 L454.5 188.2 L467.6 191.4 L478 194.8 L486.4 198.6 L494.1 203.2 L500.9 208.6 L507.6 215.4 L513.6 223.1 L519.4 232 L525.9 243.5 M362.2 192.4 L392.4 189.7 L402.3 189.1 L414 188.9 L424.8 189.5 L436.5 191.1 L449.2 193.9 L462 197.9 L474.5 202.7 L484.7 207.7 L493.6 213.1 L501.1 218.9 L508.5 225.9 L515 233.8 L521.4 243.1 L527.5 253.8 L534.3 267.2 M378.4 193.3 L402.5 193.3 L413.7 193.6 L425.3 194.6 L435.9 196.4 L447.5 199.5 L458.7 203.6 L470.8 209.1 L482.5 215.6 L492.1 222 L500.8 229 L508.8 236.7 L515.9 245.1 L522.9 254.9 L529.1 265.5 L535 277.2 L542.6 293.8 M395.3 195.8 L414.7 197.8 L426.4 199.4 L437.9 201.9 L448.3 205.2 L459.1 209.7 L470.1 215.5 L480.8 222.4 L491.7 230.6 L501.1 238.9 L509.1 247.2 L516.9 256.7 L523.9 266.7 L530.1 277.3 L536.6 290.1 L542.9 304.2 L550.6 323.2 M96.9 207.6 L101.9 201.7 L106.4 197.1 M103.8 195.8 L107.8 191.6 L111.5 188.2 L115 185.4 L118.4 183.1 L122 181.3 L125.5 180 L129.2 179.1 L132.9 178.7 M115.9 181.8 L121 178 L126.2 175.1 L131.3 173.4 L136.6 172.6 L142.1 172.7 L148 173.8 L154.3 175.8 L161.5 178.9 M125.4 172.9 L128.6 171.1 L131.5 169.7 L134.7 168.5 L137.8 167.8 L140.8 167.4 L144.2 167.4 L147.6 167.7 L151 168.3 L157.8 170.4 L165.5 173.8 L172.8 177.6 L191.7 188.2 M133.3 166.7 L136.5 165.2 L139.8 164 L142.8 163.3 L146.1 162.9 L149.5 162.9 L152.9 163.3 L156.4 164 L160.2 165.1 L166.1 167.4 L173 170.9 L196.3 184.6 L205.6 189.7 L214.6 193.9 L223 197 M140.5 161.6 L146.3 159.6 L149.2 159.1 L152.2 158.8 L158.3 159.2 L164.8 160.9 L170.8 163.2 L177.2 166.5 L184.2 170.5 L206.6 184.4 L214 188.5 L221.1 191.8 L229.6 195.1 L237.8 197.5 L246.5 199.2 L255.5 200.2 M147.1 157.4 L150.5 156.2 L153.5 155.5 L156.6 155.1 L159.6 155 L165.9 155.8 L172.9 158 L178.5 160.5 L185.2 164.2 L209.4 179.8 L219.7 185.8 L225.4 188.7 L230.7 191 L236 193.1 L241.3 194.8 L251.6 197.1 L262.2 198.4 L274.1 198.7 L289.3 198.1 M153.9 153.3 L159.8 151.8 L162.9 151.4 L165.9 151.4 L172.2 152.3 L179.1 154.6 L185 157.3 L191.7 161.1 L216.8 177.6 L228.1 184.3 L234.1 187.3 L240.2 189.9 L246.3 192.1 L252.6 193.9 L258.2 195 L264.6 196 L271.1 196.5 L277.6 196.7 L291 196.5 L322.6 194.6 M160.2 149.7 L163.6 148.8 L166.4 148.2 L169.9 148 L172.8 148 L175.7 148.4 L179.3 149.2 L185.9 151.5 L192.1 154.4 L198.4 158.1 L223.7 175 L235.1 181.8 L241.2 184.9 L247.4 187.6 L253.7 189.9 L260.1 191.6 L265.8 192.8 L271.6 193.7 L278.2 194.3 L284.9 194.6 L295.5 194.5 L323.1 193.2 L338.8 192.9 M166.8 146.3 L170.2 145.3 L173.2 144.9 L179.2 144.8 L185.3 145.8 L192.2 148.2 L197.9 150.9 L204.4 154.6 L230.5 172.1 L242.3 179.2 L248.7 182.4 L255.1 185.2 L260.9 187.2 L267.5 189.1 L277.9 191 L290.1 192 L301 192.1 L333.7 191.4 L344.8 191.7 L357.1 192.3 M173.5 142.9 L177 142.1 L180 141.7 L186 141.7 L192.2 142.8 L199 145.2 L204.8 148 L211.3 151.7 L236.8 168.8 L248.6 175.9 L254.9 179.1 L261.4 182 L267.9 184.3 L274.5 186.2 L284.1 188.1 L294 189.1 L304.9 189.5 L330.7 189.4 L343.3 189.7 L357.1 190.8 L373.1 192.9 M180.3 139.8 L183.8 139 L186.8 138.7 L192.8 138.8 L198.9 139.9 L205.8 142.4 L211.6 145.1 L218.1 148.8 L243.6 165.7 L255.4 172.7 L261.8 176 L267.5 178.5 L274 180.9 L279.9 182.7 L290.3 184.9 L301.7 186.2 L311.8 186.7 L339.3 187.2 L354.6 188.3 L362.4 189.3 L370.3 190.7 L388.3 194.6 M187.5 136.8 L194 135.9 L200.1 136.1 L206.3 137.4 L213.2 139.9 L219 142.7 L225.5 146.4 L250.4 162.6 L261.5 169.1 L267.9 172.3 L273.6 174.9 L279.4 177.1 L285.2 178.9 L295.6 181.3 L306.3 182.8 L317.1 183.6 L344.6 184.8 L353 185.6 L361.5 186.7 L370.1 188.2 L378.9 190.2 L387.9 192.7 L398.8 196.1 M194.7 134 L201.3 133.3 L207.4 133.7 L213.6 135 L220.5 137.6 L226.3 140.4 L232.2 143.7 L256.4 159 L267.5 165.4 L278.9 170.9 L284.7 173.1 L290.5 175.1 L300.2 177.5 L310.7 179.2 L321.6 180.3 L349.7 182.3 L358.1 183.3 L366.6 184.6 L376.1 186.7 L384.8 189.2 L394.7 192.5 L405.6 196.8 M201.8 131.5 L207.8 131 L213.9 131.4 L220.2 132.7 L227.1 135.2 L232.9 137.8 L239.5 141.4 L263 155.9 L273.5 161.8 L284.8 167.2 L295.7 171.2 L305.3 173.7 L315.9 175.7 L325.9 176.9 L354.8 179.7 L364 181 L372.4 182.7 L381.9 185.2 L391.5 188.5 L401.3 192.4 L412.2 197.5 M209.5 129.3 L215.5 128.9 L221.7 129.5 L227.9 130.9 L234.9 133.4 L240.8 136.1 L246.7 139.2 L269.6 152.8 L279.3 158.2 L290 163.2 L300.1 167 L309.7 169.8 L319.5 171.8 L330.2 173.5 L359.8 177.1 L368.9 178.7 L377.4 180.7 L387.7 183.8 L397.3 187.5 L407.9 192.4 L418.7 198.3 M217.1 127.3 L223.2 127.1 L229.4 127.8 L235.7 129.3 L242.1 131.6 L247.9 134.2 L253.8 137.2 L276.1 149.9 L286.5 155.3 L297.2 160.2 L308.1 164.1 L317 166.5 L326.8 168.6 L358.2 173.3 L368.8 175.2 L378.8 177.6 L388.2 180.5 L397.6 184.2 L406.4 188.3 L415.3 193.1 L425.2 199.2 M224.7 125.6 L230.8 125.6 L236.4 126.2 L242.7 127.7 L249.1 129.9 L254.9 132.4 L260.9 135.3 L283.2 147.4 L293 152.3 L303.6 156.9 L313.8 160.5 L322.7 163 L331.7 165.1 L360.6 170.1 L371.2 172.2 L381.1 174.7 L390.4 177.7 L400.6 181.9 L410.2 186.7 L420.8 193 L431.5 200.4 M232.8 124.1 L239 124.3 L244.6 125.1 L250.3 126.5 L256.7 128.7 L267.9 133.5 L289.6 144.6 L299.3 149.2 L309.3 153.4 L319.4 157 L327.6 159.4 L336.6 161.6 L363.8 166.9 L373.5 169.1 L383.3 171.8 L392.5 174.9 L403.5 179.6 L414.8 185.7 L426.2 193.1 L437.7 201.9 M240.9 122.9 L246.5 123.2 L252.1 124 L257.9 125.4 L264.3 127.5 L275.5 132.1 L296.5 142.2 L305.6 146.3 L314.9 150.1 L324.3 153.3 L339.9 157.7 L366.1 163.5 L375.7 165.9 L385.5 168.7 L394.6 172 L401.3 174.8 L407.2 177.7 L413.2 181 L419.3 184.7 L425.3 188.8 L431.5 193.4 L443.9 203.7 M249 121.9 L253.9 122.2 L259 122.9 L264.1 124 L269.2 125.5 L275.1 127.6 L281.7 130.2 L311.1 143.2 L325.4 148.5 L341.6 153.4 L378 162.5 L387.7 165.5 L396.7 168.9 L403.3 171.9 L410 175.3 L416.8 179.3 L423.7 183.8 L429.7 188.2 L436.7 193.8 L442.8 199.1 L449.9 205.8 M256.9 121 L261.9 121.4 L267.6 122.3 L272.8 123.4 L278.6 125.1 L288.5 128.6 L314.5 139.3 L328.7 144.5 L344 149.3 L380.1 159 L390.6 162.5 L399.5 166.1 L407 169.6 L414.5 173.8 L421.2 178 L428 182.8 L434.9 188.3 L441.8 194.3 L448.8 201 L455.8 208.2 M264.9 120.3 L269.9 120.7 L275.6 121.5 L281.4 122.8 L288 124.6 L297.3 127.8 L319.9 136.3 L331.9 140.6 L345.7 144.9 L371.4 152 L381.5 155.1 L391.8 158.7 L401.5 162.7 L409.7 166.8 L417.2 171.1 L424.7 176.1 L432.3 181.9 L440 188.5 L446.9 195 L453.8 202.2 L461.7 210.9 M273.4 119.7 L279.1 120.2 L285.5 121.2 L292 122.7 L299.3 124.7 L338.7 137.9 L372.8 147.8 L382.8 150.9 L393.9 154.9 L404.3 159.5 L412.4 163.8 L420.6 168.8 L429 174.8 L436.5 180.9 L444.2 187.9 L451.8 195.8 L459.6 204.5 L467.4 214 M281.8 119.2 L288.9 119.8 L296 121 L303.9 122.8 L313.9 125.6 L341.1 133.9 L371.2 142.6 L382.6 146.1 L395.9 151 L407.8 156.5 L416.7 161.5 L424.9 166.9 L433.2 173.3 L440.7 179.8 L449.1 188.2 L456.7 196.6 L464.4 205.9 L473 217.3 M290.3 118.6 L301.2 119.8 L314.4 122.4 L328 125.9 L370.3 137.6 L383.1 141.5 L393.2 145.1 L402.6 149 L411.3 153.4 L420.1 158.6 L429.1 164.9 L437.3 171.7 L445.6 179.5 L454 188.4 L461.6 197.5 L470 208.6 L478.6 220.8 M299.3 118.1 L311 119.2 L325 121.8 L347.8 127.2 L373.2 133.8 L385.9 137.6 L396.7 141.5 L406.8 145.9 L415.5 150.5 L424.3 156.1 L433.2 162.8 L442.2 170.7 L450.5 179.1 L458.8 188.7 L467.1 199.5 L475.6 211.5 L484 224.7 M308.2 117.6 L320.7 118.7 L335.5 121 L357.9 125.7 L377.5 130.5 L390.2 134.3 L400.9 138.3 L411 142.9 L420.5 148.2 L429.2 154.1 L438.1 161.3 L447 169.7 L455.2 178.7 L463.5 188.9 L471.8 200.4 L480.1 213.2 L489.4 228.7 M317.8 117 L331.7 118.1 L348.1 120.5 L367.9 124.2 L384 128 L395.9 131.7 L406.6 135.8 L415.9 140.3 L425.3 145.9 L434.9 152.8 L443.7 160.5 L452.6 169.7 L460.8 179.4 L469 190.4 L477.2 202.7 L485.5 216.5 L494.6 233.1 M328.7 116.5 L343.5 117.6 L360.7 119.8 L377.2 122.7 L391.1 126 L402.3 129.5 L412.3 133.5 L421.6 138.3 L431 144.3 L440.5 151.7 L449.3 160 L458.1 169.9 L466.2 180.2 L474.4 192 L482.5 205.3 L490.7 220 L499.8 237.7 M340.3 116.1 L355.9 117.2 L372.7 119.1 L386.4 121.5 L398.9 124.5 L409.5 128 L419.4 132.4 L428.7 137.6 L437.3 143.6 L446 150.9 L454.7 159.8 L463.6 170.3 L471.6 181.4 L479.7 194 L487.8 208.1 L495.9 223.7 L504.8 242.7 M355.2 115.9 L371.2 117.1 L385.4 118.8 L397.8 121.2 L408.2 124.1 L418.8 128.1 L428 132.7 L436.5 138 L445.1 144.8 L453.8 153 L461.7 161.9 L469.7 172.2 L477.7 184.2 L485.7 197.7 L493.7 212.9 L501.8 229.7 L509.8 248 M310.4 116.6 L313.9 116.4 M375.7 116.3 L389.1 117.7 L400.7 119.6 L411.1 122.2 L421 125.7 L429.5 129.7 L438.2 134.9 L446.3 140.9 L454.3 148.3 L462.5 157.1 L469.9 166.5 L477.4 177.3 L484.8 189.6 L492.3 203.4 L499.8 218.7 L507.2 235.5 L514.6 253.8 M400.3 118.2 L410.6 120.3 L419.8 122.9 L427.9 126.1 L436 130.2 L443.6 135.1 L451.3 141.1 L458.4 147.7 L465.5 155.5 L472.7 164.6 L479.2 174.1 L486.3 185.9 L492.8 197.9 L499.3 211.2 L505.8 225.7 L512.3 241.4 L519.4 260.1 M423.3 122.8 L430.8 125.6 L438.3 129.2 L445.4 133.5 L452 138.3 L458.6 144.1 L465.2 150.9 L471.3 158.1 L477.5 166.4 L483.6 175.7 L489.2 185.2 L495.3 196.7 L500.9 208.1 L507 221.9 L512.5 235.4 L518 249.9 L524 267 M444.1 131 L450.1 134.8 L456 139.2 L462 144.5 L467.6 150.1 L473.1 156.6 L478.3 163.2 L483.8 171.4 L489 179.7 L494.1 188.9 L499.2 198.9 L504.3 209.7 L508.9 220.4 L514 232.9 L518.5 245.1 L523.6 259.4 L528.5 274.5 M463.2 143.8 L468 148.4 L472.9 153.6 L477.7 159.5 L482.2 165.5 L486.7 172.2 L491.2 179.5 L495.7 187.4 L499.8 195.3 L508.4 213.7 L516.5 233.9 L524.6 256.4 L533 282.6 M480.7 161.3 L488.4 172 L495.9 184.1 L503 197.6 L510 212.9 L517.1 230.1 L523.8 248.4 L530.7 269.4 L537.3 291.4 M495.6 181.3 L501.7 192 L507.6 203.7 L513.4 216.7 L519.2 231.1 L525 246.9 L530.5 263.5 L536 281.5 L541.4 300.8 M513.8 214.5 L522.1 234.6 L530.1 257.2 L537.9 282.4 L545.5 310.5 M542.9 294.7 L549.5 320.4" fill="none" stroke="#808080" stroke-width="0.9" stroke-linejoin="round"/>
<path d="M84.2 230.4 L98 204.2 L108 190.4 L121 177.5 M91.9 209.6 L102.7 198 L112 188 L121.2 180.4 M95 215.8 L104 199 L113 186 L121 179" fill="none" stroke="#808080" stroke-width="0.9"/></g>
<path d="M82.4 235 C83 232.8 84.4 226.5 86 222 C87.6 217.5 89.7 212.3 92 208 C94.3 203.7 98 198.8 100 196 C102 193.2 102.3 192.8 104 191.2 C105.7 189.6 108.2 188.2 110 186.5 C111.8 184.8 113.2 183 115 181.3 C116.8 179.6 119 178 121.1 176.4 C123.1 174.8 125.2 173.1 127.3 171.5 C129.3 169.9 131.3 168.2 133.4 166.7 C135.5 165.2 137.6 163.8 139.6 162.4 C141.6 161 143.6 159.5 145.7 158.2 C147.8 156.9 149.8 155.7 151.9 154.4 C154 153.2 155.9 152 158 150.7 C160.1 149.4 162.6 147.7 164.6 146.5 C166.6 145.3 167.9 144.5 170 143.4 C172.1 142.3 174.7 140.8 176.9 139.7 C179.1 138.6 181 137.7 183 136.8 C185 135.9 187.1 135 189.1 134.2 C191.1 133.4 192.9 132.8 195 132.2 C197.1 131.6 198.9 131 201.4 130.4 C203.9 129.8 206.9 129.1 210 128.4 C213.1 127.7 216.7 127.1 220 126.4 C223.3 125.7 226.7 125 230 124.4 C233.3 123.8 236.7 123.2 240 122.7 C243.3 122.2 246.7 121.7 250 121.2 C253.3 120.8 256.7 120.4 260 120 C263.3 119.6 266.7 119.3 270 119 C273.3 118.7 276.7 118.5 280 118.3 C283.3 118.1 286.7 117.9 290 117.7 C293.3 117.5 296.3 117.4 300 117.1 C303.7 116.8 308.2 116.4 312.3 116.1 C316.4 115.8 320.5 115.5 324.6 115.3 C328.7 115.1 332.8 114.8 336.9 114.7 C341 114.6 345 114.4 349.1 114.4 C353.2 114.4 357.3 114.6 361.4 114.7 C365.5 114.8 370.6 115.2 373.7 115.3 C376.8 115.4 376.9 115.3 380 115.6 C383.1 115.9 388.2 116.5 392.3 117.1 C396.4 117.7 400.5 118.3 404.6 119 C408.7 119.7 413.9 120.6 416.9 121.2 C419.9 121.8 420.8 122 422.8 122.6 C424.8 123.1 427.1 123.9 429.1 124.5 C431.1 125.1 432.9 125.7 435 126.4 C437.1 127.1 439.5 127.9 441.4 128.8 C443.2 129.7 444.3 130.7 446.1 131.8 C447.9 132.9 450.2 134 452.3 135.3 C454.4 136.7 456.3 138.3 458.4 139.9 C460.4 141.5 462.6 143.2 464.6 145 C466.7 146.8 468.6 148.6 470.7 150.5 C472.8 152.4 474.8 154.5 476.9 156.7 C478.9 158.9 481.1 161.3 483 163.6 C484.9 165.9 486.7 168.1 488.6 170.6 C490.5 173.1 492.4 175.8 494.4 178.8 C496.4 181.8 498.6 185 500.7 188.4 C502.8 191.8 504.8 195.6 506.9 199.5 C508.9 203.4 511.3 208.3 513 211.8 C514.7 215.3 515.8 217.5 517 220.3 C518.2 223.1 519.3 225.6 520.5 228.6 C521.7 231.6 523 235.1 524.2 238.4 C525.4 241.7 526.7 244.8 527.9 248.3 C529.1 251.8 530.4 255.7 531.6 259.3 C532.8 262.9 533.9 266.6 535 270 C536.1 273.4 537 276.3 538.1 279.8 C539.2 283.3 540.6 287 541.8 290.9 C543 294.8 544.5 299.5 545.5 303.2 C546.5 306.9 547.3 310.1 547.9 313 C548.5 315.9 549 319.2 549.2 320.5 L549.2 320.5 C548.8 319.4 547.7 316.2 546.7 313.6 C545.7 311 544.6 308.4 543 305 C541.4 301.6 538.9 296.8 536.9 293 C534.9 289.2 532.1 284.8 530.7 282.5 C529.3 280.2 529.8 281.5 528.5 279.5 C527.2 277.5 524.9 273.5 523 270.5 C521.1 267.5 518.9 264.5 516.9 261.5 C514.9 258.5 512.7 255.2 510.7 252.5 C508.7 249.8 507 247.8 505 245.5 C503 243.2 500.7 241 498.5 238.9 C496.3 236.8 494.1 234.8 492 233 C489.9 231.2 488 229.7 486 228 C484 226.3 482 224.4 480 222.8 C478 221.2 477.1 220.3 474.1 218.6 C471.1 216.9 466 214.4 461.9 212.6 C457.8 210.8 453.7 209.2 449.6 207.7 C445.5 206.2 440.8 204.5 437.3 203.4 C433.8 202.3 432.2 201.7 428.7 201 C425.2 200.3 420.5 199.8 416.4 199.2 C412.3 198.6 408.2 197.8 404.1 197.2 C400 196.6 396 196.1 391.9 195.5 C387.8 194.9 383.7 194.3 379.6 193.9 C375.5 193.5 370.6 193.2 367.3 193 C364 192.8 363.1 192.9 360 192.9 C356.9 192.9 352.6 192.8 348.7 193 C344.8 193.2 340.5 193.5 336.4 193.8 C332.3 194.1 328.2 194.4 324.1 194.8 C320 195.2 315.9 195.6 311.9 196 C307.9 196.4 303.6 197 300 197.4 C296.4 197.8 293.3 198.3 290 198.7 C286.7 199.1 283.6 199.5 280 199.8 C276.4 200.1 272.6 200.3 268.7 200.5 C264.8 200.7 260.5 200.9 256.4 200.9 C252.3 200.9 248.2 200.6 244.1 200.3 C240 200 236 199.6 231.9 199 C227.8 198.4 223.7 197.6 219.6 196.8 C215.5 196 211.4 195 207.3 194 C203.2 193 198.1 191.5 195 190.6 C191.9 189.7 190.8 189.3 188.7 188.7 C186.6 188.1 184.6 187.5 182.5 186.9 C180.4 186.3 178.5 185.7 176.4 185 C174.3 184.3 172.1 183.6 170 183 C167.9 182.4 166.1 181.8 164.1 181.3 C162.1 180.8 160 180.2 158 179.8 C156 179.4 153.9 178.9 151.9 178.6 C149.9 178.3 148.1 178.2 146 178 C143.9 177.8 141.8 177.4 139.6 177.3 C137.4 177.2 134.9 177.2 133 177.3 C131.1 177.4 129.2 177.5 127.9 178 C126.6 178.5 126.1 179.5 125 180.5 C123.9 181.5 122.8 182.6 121.1 184.2 C119.4 185.8 116.8 188.3 115 190 C113.2 191.7 112.2 192.1 110 194.6 C107.8 197.1 104.3 201.8 102 205 C99.7 208.2 98 210.8 96 214 C94 217.2 92.3 220.5 90 224 C87.7 227.5 83.7 233.2 82.4 235Z" fill="none" stroke="#808080" stroke-width="0.8"/>
</g>
<path d="M89.9 361.6 L74.4 100 L295.7 1.2 L565.3 71.2 L548.8 334.8 L368.2 463.4 L89.9 361.6Z" fill="none" stroke="#1c1c1c" stroke-width="1.45" stroke-linejoin="miter"/>
<line x1="139.6" y1="379.8" x2="144.2" y2="376.8" stroke="#1c1c1c" stroke-width="1.45"/>
<line x1="192.1" y1="399" x2="196.7" y2="396" stroke="#1c1c1c" stroke-width="1.45"/>
<line x1="247.5" y1="419.2" x2="252.1" y2="416.2" stroke="#1c1c1c" stroke-width="1.45"/>
<line x1="306.1" y1="440.7" x2="310.7" y2="437.7" stroke="#1c1c1c" stroke-width="1.45"/>
<line x1="411.4" y1="432.6" x2="404.4" y2="430.2" stroke="#1c1c1c" stroke-width="1.45"/>
<line x1="450.6" y1="404.8" x2="443.6" y2="402.4" stroke="#1c1c1c" stroke-width="1.45"/>
<line x1="486.2" y1="379.4" x2="479.2" y2="377" stroke="#1c1c1c" stroke-width="1.45"/>
<line x1="518.9" y1="356.1" x2="511.9" y2="353.7" stroke="#1c1c1c" stroke-width="1.45"/>
<line x1="76.2" y1="130.9" x2="82.5" y2="128.3" stroke="#1c1c1c" stroke-width="1.45"/>
<line x1="78" y1="161.2" x2="84.3" y2="158.6" stroke="#1c1c1c" stroke-width="1.45"/>
<line x1="79.8" y1="191.2" x2="86.1" y2="188.6" stroke="#1c1c1c" stroke-width="1.45"/>
<line x1="81.5" y1="220.7" x2="87.8" y2="218.1" stroke="#1c1c1c" stroke-width="1.45"/>
<line x1="83.3" y1="249.7" x2="89.6" y2="247.1" stroke="#1c1c1c" stroke-width="1.45"/>
<line x1="85" y1="278.3" x2="91.3" y2="275.7" stroke="#1c1c1c" stroke-width="1.45"/>
<line x1="86.6" y1="306.5" x2="92.9" y2="303.9" stroke="#1c1c1c" stroke-width="1.45"/>
<line x1="88.3" y1="334.2" x2="94.6" y2="331.6" stroke="#1c1c1c" stroke-width="1.45"/>
<g font-family="'Liberation Serif', serif" font-size="24.5" fill="#111" stroke="#111" stroke-width="0.25">
<text transform="translate(66.7,107.4) scale(.925,1)" text-anchor="end">0.4</text>
<text transform="translate(68.5,138.3) scale(.925,1)" text-anchor="end">0.2</text>
<text transform="translate(70.3,168.6) scale(.925,1)" text-anchor="end">0</text>
<text transform="translate(72.1,198.6) scale(.925,1)" text-anchor="end">-0.2</text>
<text transform="translate(73.8,228.1) scale(.925,1)" text-anchor="end">-0.4</text>
<text transform="translate(75.6,257.1) scale(.925,1)" text-anchor="end">-0.6</text>
<text transform="translate(77.3,285.7) scale(.925,1)" text-anchor="end">-0.8</text>
<text transform="translate(78.9,313.9) scale(.925,1)" text-anchor="end">-1.0</text>
<text transform="translate(80.6,341.6) scale(.925,1)" text-anchor="end">-1.2</text>
<text transform="translate(82.2,363.7) scale(.925,1)" text-anchor="end">-1.4</text>
<text transform="translate(82.7,381.6) scale(.925,1)" text-anchor="middle">0</text>
<text transform="translate(121.2,397.3) scale(.925,1)" text-anchor="middle">40</text>
<text transform="translate(171,415.1) scale(.925,1)" text-anchor="middle">80</text>
<text transform="translate(223,434.6) scale(.925,1)" text-anchor="middle">120</text>
<text transform="translate(283.1,458.4) scale(.925,1)" text-anchor="middle">160</text>
<text transform="translate(343.7,479.4) scale(.925,1)" text-anchor="middle">200</text>
<text transform="translate(378,479.4) scale(.925,1)" text-anchor="middle">0</text>
<text transform="translate(428.4,450.5) scale(.925,1)" text-anchor="middle">20</text>
<text transform="translate(469,421.6) scale(.925,1)" text-anchor="middle">40</text>
<text transform="translate(503.9,395.8) scale(.925,1)" text-anchor="middle">60</text>
<text transform="translate(537.5,371.8) scale(.925,1)" text-anchor="middle">80</text>
<text transform="translate(570,347.5) scale(.925,1)" text-anchor="middle">100</text>
<text transform="translate(27.2,306.8) rotate(-93.4) scale(.937,1)">Error of <tspan font-style="italic">e</tspan><tspan font-size="16" dy="5">5</tspan><tspan dy="-5"> (‰)</tspan></text>
<text transform="translate(146,441.6) rotate(20)" font-style="italic">P<tspan font-size="16" dy="5" font-style="normal">2</tspan><tspan dy="-5"> (MW)</tspan></text>
<text transform="translate(516.6,432.4) rotate(-36) scale(.93,1)" text-anchor="middle"><tspan font-style="italic">P</tspan><tspan font-size="16" dy="7"> 3</tspan><tspan dy="-7"> (MW)</tspan></text>
<text transform="translate(625,83.9) scale(.925,1)">0.4‰</text>
<text transform="translate(625,139.4) scale(.925,1)">0‰</text>
<text transform="translate(625,193.6) scale(.925,1)">-1.4‰</text>
</g>
<rect x="587.6" y="76.1" width="25.9" height="54.7" fill="#d2301c"/>
<rect x="587.6" y="130.8" width="25.9" height="54.5" fill="#83cdd4"/>
<rect x="587.6" y="76.1" width="25.9" height="109.2" fill="none" stroke="#1c1c1c" stroke-width="1.2"/>
<line x1="613.5" y1="76.1" x2="621.5" y2="76.1" stroke="#1c1c1c" stroke-width="1.2"/>
<line x1="613.5" y1="130.8" x2="621.5" y2="130.8" stroke="#1c1c1c" stroke-width="1.2"/>
<line x1="613.5" y1="185.3" x2="621.5" y2="185.3" stroke="#1c1c1c" stroke-width="1.2"/>
</svg>
</body></html>
